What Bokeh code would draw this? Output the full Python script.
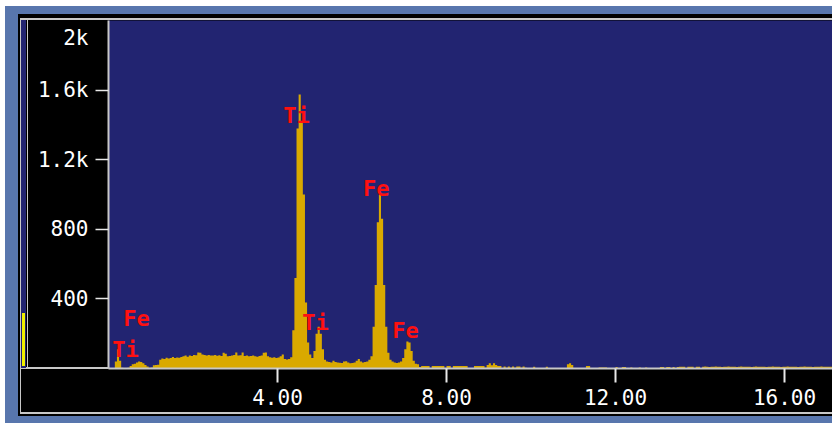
from bokeh.plotting import figure
from bokeh.models import FixedTicker, NumeralTickFormatter, ColumnDataSource
from bokeh.core.properties import value
from bokeh.embed import file_html
from bokeh.resources import INLINE
import numpy as np

# ---------------- data (EDS spectrum, 0.05 keV bins starting at 0 keV) ----------------
bin_width_kev = 0.05
counts_low = [0, 0, 0, 40, 110, 45, 5, 3, 3, 5,
              15, 25, 28, 35, 40, 38, 30, 20, 12, 4,
              6, 18, 20, 22, 50, 58, 55, 62, 58, 60,
              66, 60, 63, 62, 66, 70, 74, 68, 75, 72,
              78, 76, 92, 90, 80, 78, 75, 78, 74, 75,
              78, 73, 76, 72, 90, 85, 70, 72, 75, 78,
              92, 74, 76, 92, 72, 74, 70, 72, 75, 70,
              68, 72, 74, 90, 92, 70, 64, 62, 65, 60,
              63, 70, 80, 55, 52, 55, 65]
counts_ti = [220, 520, 1380, 1575, 1420, 1000, 380, 150, 80, 60,
             100, 200, 240, 200, 110, 50]
counts_mid = [40, 38, 35, 45, 38, 35, 33, 32, 40, 42,
              35, 30, 32, 35, 45, 55, 40, 35, 38, 40, 50]
counts_fe = [70, 240, 480, 840, 1000, 860, 480, 240, 90, 50,
             40, 35, 32, 35, 40, 60, 110, 155, 150, 100,
             45, 28, 25, 8]
counts_tail = [14, 14, 14, 14, 2, 14, 14, 14, 14, 14, 14, 3, 14, 14, 3,
               14, 14, 14, 14, 14, 14, 14, 3, 3, 3, 14, 14, 14, 14, 14, 5,
               20, 30, 18, 30, 20, 15, 14, 3,
               12, 5, 12, 5, 12, 5, 12, 12, 5, 12, 5, 3,
               2, 2, 10, 2, 2, 2, 2, 2, 10, 2, 2, 2, 2, 2, 2, 2, 2, 2,
               25, 30, 20, 3, 3, 3, 3, 3, 3, 14, 14, 2, 2, 2, 2,
               6, 6, 6, 6, 2, 2, 2, 2, 8,
               2, 2, 8, 8, 2, 2, 6, 2, 2, 2, 6, 2, 2, 6, 2, 2, 2, 2, 2, 2,
               8, 8, 2, 8, 8, 3, 8, 3, 8, 10, 10, 10, 3, 10, 10, 10, 3, 10, 10, 3,
               10, 11, 10, 9, 10, 10, 11, 10, 10, 9, 10, 10, 11, 10, 10, 10, 9, 10, 11, 10,
               10, 10, 10, 9, 10, 11, 10, 10, 10, 10, 9, 10, 10, 11, 10, 10, 10, 9, 10, 10,
               11, 10, 10, 10, 10, 9, 10, 10, 11, 10, 10, 10, 9, 10, 10, 10, 11, 10, 10, 10,
               10, 10]

peak_labels = ["Ti", "Fe", "Ti", "Ti", "Fe", "Fe"]
peak_x = [0.40, 0.66, 4.45, 4.90, 6.34, 7.03]
peak_y = [109, 287, 1454, 264, 1034, 218]

x_ticks = [4, 8, 12, 16]
y_ticks = [400, 800, 1200, 1600]
y_tick_text = {400: "400", 800: "800", 1200: "1.2k", 1600: "1.6k"}
y_top_text = "2k"

counts = counts_low + counts_ti + counts_mid + counts_fe + counts_tail
edges = np.arange(len(counts) + 1) * bin_width_kev
step_y = counts + [counts[-1]]

# ---------------- style ----------------
NAVY = "#222471"
FRAME_BLUE = "#5876ad"
GRAY = "#c8c8c8"
GOLD = "#d9a900"
FONT = "DejaVu Sans Mono"
TOP_LABEL_POS = 1902   # where the instrument prints its "2k" full-scale label


def solid(color, x, y, w, h):
    return f"linear-gradient({color},{color}) {x}px {y}px / {w}px {h}px no-repeat"


p = figure(width=811, height=392, x_range=(0, 17.136), y_range=(0, 2000),
           output_backend="svg", toolbar_location=None,
           min_border_left=87, min_border_right=0, min_border_top=0,
           min_border_bottom=44)
p.background_fill_color = NAVY
p.border_fill_alpha = 0
p.outline_line_color = None
p.grid.visible = False
p.styles = {
    "margin-left": "21px",
    "margin-top": "20px",
    "box-shadow": "1px 0px 0px 2px #c8c8c8, 2px -1px 0px 5px #000000, "
                  "-2px 0px 0px 14px " + FRAME_BLUE,
    "background": ", ".join([
        solid("#f0f000", 1, 293, 3, 53),     # yellow level bar
        solid(NAVY, 0, 0, 5, 348),           # navy status strip
        solid(GRAY, 6, 0, 1, 348),           # grey rule
        solid(GRAY, 0, 347, 88, 2),          # grey base rule under the scale
    ]) + ", #000000",
}

src = ColumnDataSource(dict(x=edges, y=step_y))
p.varea_step(x="x", y1=0, y2="y", step_mode="after", source=src, fill_color=GOLD)

p.text(x=peak_x, y=peak_y, text=peak_labels, text_color="#ff1010",
       text_font=value(FONT), text_font_size="22px", text_font_style="bold",
       text_align="center", text_baseline="middle")

# axes
xa = p.xaxis[0]
xa.ticker = FixedTicker(ticks=x_ticks)
xa.formatter = NumeralTickFormatter(format="0.00")
xa.major_tick_line_width = 2
xa.major_tick_out = 14
xa.major_label_standoff = 6

y_labels = dict(y_tick_text)
y_labels[TOP_LABEL_POS] = y_top_text
ya = p.yaxis[0]
ya.ticker = FixedTicker(ticks=y_ticks + [TOP_LABEL_POS], minor_ticks=y_ticks)
ya.major_label_overrides = y_labels
ya.major_tick_line_color = None
ya.major_tick_out = 13
ya.minor_tick_out = 13
ya.minor_tick_in = 0
ya.minor_tick_line_color = "#e8e8e8"
ya.minor_tick_line_width = 1.5
ya.major_label_standoff = 7

for ax in (xa, ya):
    ax.axis_line_color = GRAY
    ax.axis_line_width = 2
    ax.major_tick_in = 0
    ax.major_label_text_color = "white"
    ax.major_label_text_font = FONT
    ax.major_label_text_font_size = "21px"
xa.major_tick_line_color = "#e8e8e8"
xa.minor_tick_line_color = None

open("out.html", "w").write(file_html(p, INLINE))
